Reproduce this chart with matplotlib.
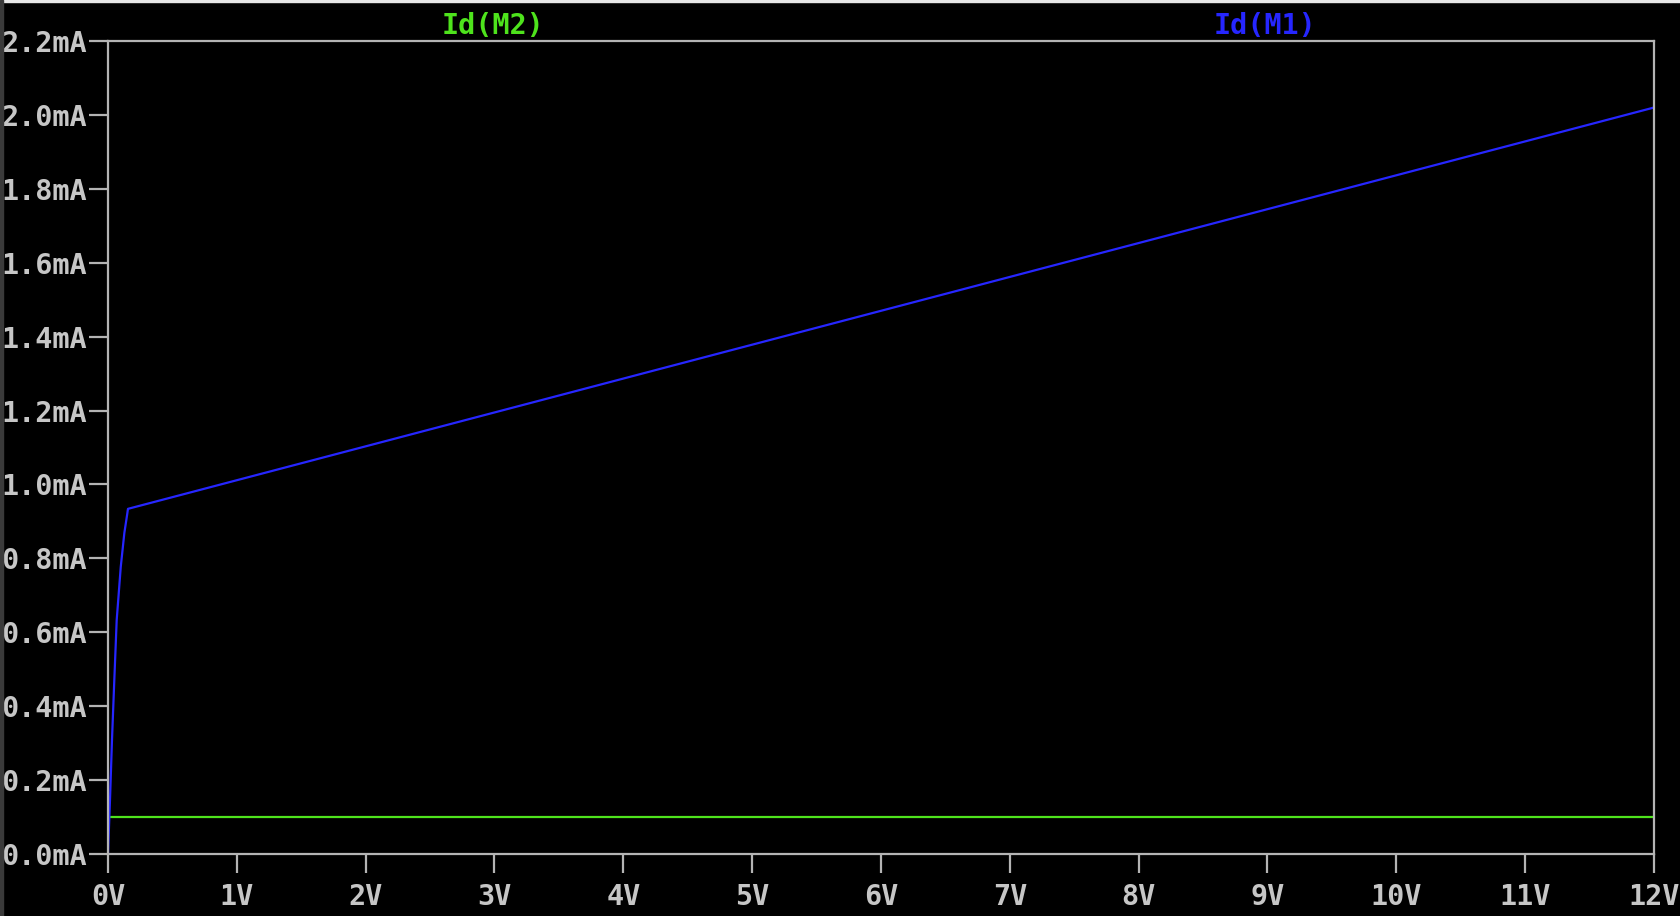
import matplotlib.pyplot as plt
import matplotlib.patches as mpatches
import numpy as np

# Sweep voltage (V) and drain currents (mA)
v_m1 = [0.0, 0.0155, 0.031, 0.049, 0.0675, 0.099, 0.127, 0.148, 0.155, 12.0]
id_m1 = [0.0, 0.146, 0.309, 0.471, 0.633, 0.777, 0.869, 0.917, 0.934, 2.02]
v_m2 = [0.0, 12.0]
id_m2 = [0.1, 0.1]

x_ticks = np.arange(0, 13, 1)
y_ticks = np.arange(0, 2.21, 0.2)

blue = '#2626ff'
green = '#4ee31c'
grey = '#b4b4b4'
label_grey = '#c6c6c6'

plt.rcParams['font.family'] = 'DejaVu Sans Mono'
plt.rcParams['font.weight'] = 'bold'

fig = plt.figure(figsize=(16.8, 9.16), dpi=100, facecolor='black')
ax = fig.add_axes([108/1680, 1 - 854/916, (1654 - 108)/1680, (854 - 41)/916])
ax.set_facecolor('black')

ax.plot(v_m2, id_m2, color=green, lw=1.6)
ax.plot(v_m1, id_m1, color=blue, lw=1.6)

ax.set_xlim(0, 12)
ax.set_ylim(0, 2.2)
ax.set_xticks(x_ticks)
ax.set_xticklabels([f'{int(v)}V' for v in x_ticks])
ax.set_yticks(y_ticks)
ax.set_yticklabels([f'{y:.1f}mA' for y in y_ticks])

for s in ax.spines.values():
    s.set_color(grey)
    s.set_linewidth(1.6)
ax.tick_params(colors=grey, labelcolor=label_grey, labelsize=20.5,
               length=14, width=1.6, direction='out')
ax.tick_params(axis='y', pad=1)
ax.tick_params(axis='x', pad=7)

# trace names above the plot
fig.text(493/1680, 1 - 26/916, 'Id(M2)', color=green, fontsize=20.5,
         fontweight='bold', ha='center', va='center')
fig.text(1265/1680, 1 - 26/916, 'Id(M1)', color=blue, fontsize=20.5,
         fontweight='bold', ha='center', va='center')

# window edges
fig.patches.append(mpatches.Rectangle((0, 1 - 2/916), 1, 2/916, transform=fig.transFigure,
                                      color='#e8e8e8', zorder=0))
fig.patches.append(mpatches.Rectangle((0, 0), 3/1680, 1, transform=fig.transFigure,
                                      color='#3a3a3a', zorder=0))

fig.savefig('out.png', dpi=100, facecolor='black')
